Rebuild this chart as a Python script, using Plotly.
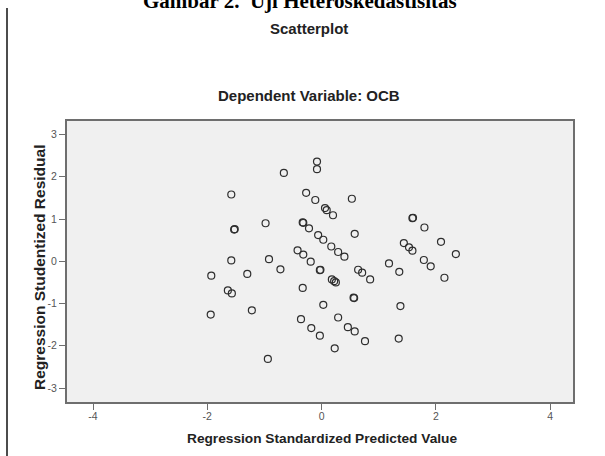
import plotly.graph_objects as go

# Regression Standardized Predicted Value (x) and Regression Studentized Residual (y)
pred = [-1.58, -1.53, -1.52, -0.08, -0.08, -0.66, -0.27, -0.11, 0.53, 0.06,
        0.09, 0.20, -0.98, -0.33, -0.32, -0.22, 1.60, 1.59, 0.58, -0.06,
        0.03, 0.17, 0.29, -0.42, -0.32, 0.40, 1.44, 1.53, 1.59, 1.80,
        2.09, 2.35, -1.58, -1.93, -1.30, -1.64, -1.57, -1.22, -1.94, -0.92,
        -0.19, -0.72, -0.02, -0.03, 0.64, 0.71, 0.85, 0.18, 0.22, 0.25,
        1.18, 1.36, -0.33, 0.56, 0.57, 1.38, 0.03, 0.29, -0.36, 0.46,
        0.58, -0.18, -0.03, 0.76, 0.23, 1.35, -0.94, 1.79, 1.91, 2.15]
resid = [1.58, 0.75, 0.76, 2.36, 2.18, 2.09, 1.62, 1.45, 1.48, 1.26,
         1.21, 1.09, 0.90, 0.92, 0.91, 0.78, 1.03, 1.02, 0.65, 0.62,
         0.51, 0.35, 0.22, 0.26, 0.16, 0.11, 0.43, 0.33, 0.25, 0.80,
         0.46, 0.17, 0.02, -0.34, -0.30, -0.69, -0.76, -1.16, -1.26, 0.05,
         -0.01, -0.19, -0.20, -0.21, -0.20, -0.27, -0.43, -0.43, -0.47, -0.50,
         -0.05, -0.25, -0.63, -0.86, -0.87, -1.06, -1.03, -1.33, -1.37, -1.56,
         -1.66, -1.58, -1.76, -1.89, -2.06, -1.83, -2.31, 0.03, -0.12, -0.39]

x_tickvals = [-4, -2, 0, 2, 4]
x_ticktext = ["-4", "-2", "0", "2", "4"]
y_tickvals = [-3, -2, -1, 0, 1, 2, 3]
y_ticktext = ["-3", "-2", "-1", "0", "1", "2", "3"]

doc_title = "Gambar 2.  Uji Heteroskedastisitas"
chart_title = "Scatterplot"
subtitle = "Dependent Variable: OCB"
x_title = "Regression Standardized Predicted Value"
y_title = "Regression Studentized Residual"

W, H = 605, 456
L, R, T, B = 67, 32, 121, 54
pw, ph = W - L - R, H - T - B

def px(xp):
    return (xp - L) / pw

def py(yp):
    return (H - B - yp) / ph

SANS = "Liberation Sans, Arial, sans-serif"

fig = go.Figure()
fig.add_trace(go.Scatter(
    x=pred, y=resid, mode="markers",
    marker=dict(symbol="circle-open", size=7, color="#2e2e2e", line=dict(width=1.2)),
    showlegend=False, hoverinfo="x+y",
))

axis_common = dict(
    showgrid=False, zeroline=False, showline=True, mirror=True,
    linecolor="#6e6e6e", linewidth=2,
    ticks="outside", ticklen=6, tickwidth=1, tickcolor="#6e6e6e",
    tickfont=dict(family=SANS, size=10.5, color="#555555"),
)

fig.update_layout(
    width=W, height=H,
    margin=dict(l=L, r=R, t=T, b=B),
    paper_bgcolor="white", plot_bgcolor="#f0f0f0",
    xaxis=dict(range=[-4.455, 4.40], tickvals=x_tickvals, ticktext=x_ticktext,
               ticklabelstandoff=-3, **axis_common),
    yaxis=dict(range=[-3.33, 3.32], tickvals=y_tickvals, ticktext=y_ticktext, **axis_common),
    annotations=[
        dict(text=doc_title, xref="paper", yref="paper", x=px(300), y=py(15),
             xanchor="center", yanchor="bottom", showarrow=False,
             font=dict(family="Liberation Serif, Times New Roman, serif", size=21,
                       color="black", weight="bold")),
        dict(text=chart_title, xref="paper", yref="paper", x=px(309), y=py(28),
             xanchor="center", yanchor="middle", showarrow=False,
             font=dict(family=SANS, size=15, color="#222222", weight="bold")),
        dict(text=subtitle, xref="paper", yref="paper", x=px(309), y=py(96),
             xanchor="center", yanchor="middle", showarrow=False,
             font=dict(family=SANS, size=15, color="#222222", weight="bold")),
        dict(text=x_title, xref="paper", yref="paper", x=px(322), y=py(438),
             xanchor="center", yanchor="middle", showarrow=False,
             font=dict(family=SANS, size=13.7, color="#222222", weight="bold")),
        dict(text=y_title, xref="paper", yref="paper", x=px(39), y=py(268),
             xanchor="center", yanchor="middle", showarrow=False, textangle=-90,
             font=dict(family=SANS, size=15.5, color="#222222", weight="bold")),
    ],
    shapes=[
        dict(type="line", xref="paper", yref="paper",
             x0=px(7), x1=px(7), y0=py(8), y1=py(460),
             line=dict(color="#111111", width=1.5)),
    ],
)

fig.write_html("out.html",
               config={"displayModeBar": False},
               post_script="document.body.style.margin='0';document.body.style.overflow='hidden';")
